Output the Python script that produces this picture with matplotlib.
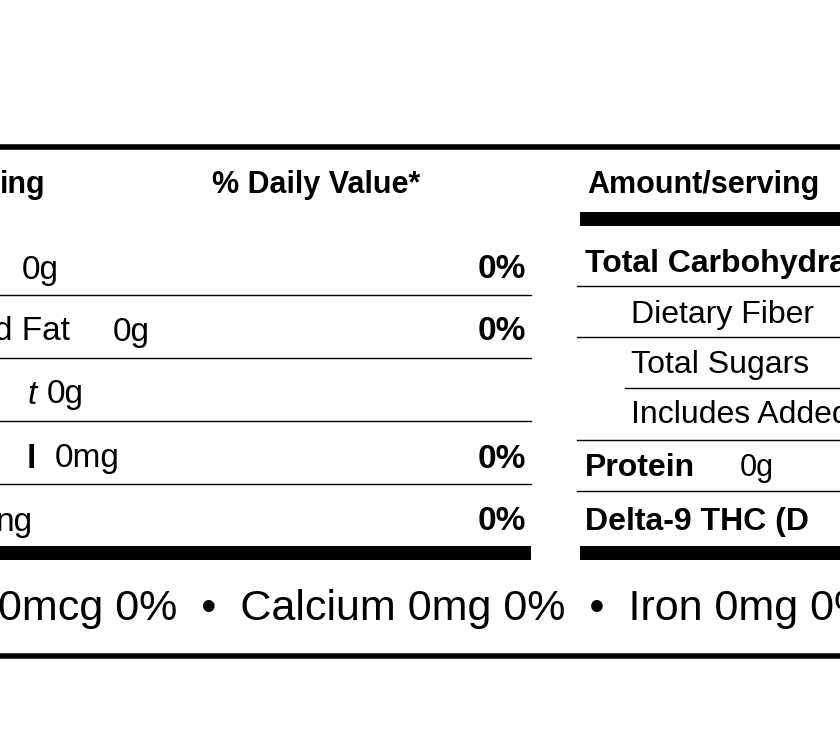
import matplotlib
matplotlib.use("Agg")
import matplotlib.pyplot as plt

# label data ------------------------------------------------------------------
left_names = ["", "d Fat", "t", "l", "ng"]
left_amounts = ["0g", "0g", "0g", "0mg", ""]
left_styles = ["normal", "normal", "italic", "bold", "normal"]
left_dv = ["0%", "0%", "", "0%", "0%"]
left_y = [270, 332, 395, 459, 522]
left_lines = [295, 358, 421, 484]

right_names = ["Total Carbohydrate", "Dietary Fiber", "Total Sugars",
               "Includes Added", "Protein", "Delta-9 THC (D"]
right_bold = [True, False, False, False, True, True]
right_indent = [0, 1, 1, 1, 0, 0]
right_y = [264, 315, 365, 415, 468, 522]
right_lines = [(286, 577), (337, 577), (388, 625), (440, 577), (491, 577)]

footer = "0mcg 0%  \u2022  Calcium 0mg 0%  \u2022  Iron 0mg 0%"

plt.rcParams['font.family'] = 'Liberation Sans'

fig = plt.figure(figsize=(8.4, 7.4), dpi=100)
ax = fig.add_axes([0, 0, 1, 1])
ax.set_xlim(0, 840)
ax.set_ylim(740, 0)
ax.axis('off')

# rules
ax.plot([0, 840], [147, 147], color='black', lw=4)
ax.plot([0, 840], [656, 656], color='black', lw=4)
ax.fill_between([580, 840], 212, 226, color='black', lw=0)
ax.fill_between([0, 531], 546, 560, color='black', lw=0)
ax.fill_between([580, 840], 546, 560, color='black', lw=0)

# headers
ax.text(0, 185, "ing", fontsize=22, weight='bold', va='center')
ax.text(212, 185, "% Daily Value*", fontsize=22, weight='bold', va='center')
ax.text(587, 185, "Amount/serving", fontsize=22, weight='bold', va='center')

# left column
for i in range(len(left_y)):
    y = left_y[i]
    if left_styles[i] == "italic":
        ax.text(27, y, left_names[i], fontsize=24, style='italic', va='center')
        ax.text(47, y, left_amounts[i], fontsize=24, va='center')
    elif left_styles[i] == "bold":
        ax.text(27, y, left_names[i], fontsize=24, weight='bold', va='center')
        ax.text(55, y, left_amounts[i], fontsize=24, va='center')
    elif left_names[i] == "":
        ax.text(22, y, left_amounts[i], fontsize=24, va='center')
    elif left_names[i] == "ng":
        ax.text(-4, y, left_names[i], fontsize=24, va='center')
    else:
        ax.text(-6, y, left_names[i], fontsize=24, va='center')
        ax.text(113, y, left_amounts[i], fontsize=24, va='center')
    ax.text(526, y, left_dv[i], fontsize=24, weight='bold', va='center', ha='right')
for y in left_lines:
    ax.plot([0, 531], [y, y], color='black', lw=1)

# right column
for i in range(len(right_y)):
    x = 631 if right_indent[i] else 585
    ax.text(x, right_y[i], right_names[i], fontsize=23,
            weight='bold' if right_bold[i] else 'normal', va='center')
ax.text(740, 468, "0g", fontsize=22, va='center')
for y, x0 in right_lines:
    ax.plot([x0, 840], [y, y], color='black', lw=1)

ax.text(-2, 609, footer, fontsize=31, va='center')

fig.savefig("out.png", dpi=100)
